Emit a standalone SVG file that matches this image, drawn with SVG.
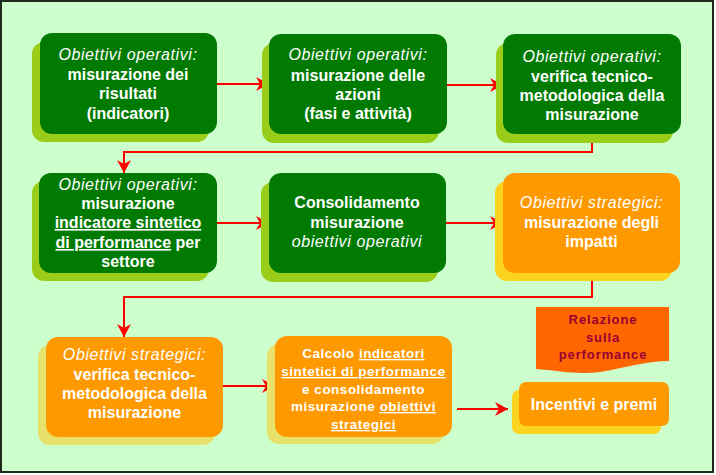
<svg xmlns="http://www.w3.org/2000/svg" width="716" height="475" viewBox="0 0 716 475">
<defs>
<marker id="arr" markerUnits="userSpaceOnUse" markerWidth="16" markerHeight="16" refX="13" refY="7" orient="auto">
<path d="M0,0 L13,7 L0,14 L4,7 Z" fill="#FF0000"/>
</marker>
</defs>
<style>
.t{font-family:"Liberation Sans",Arial,sans-serif;font-size:16px;font-weight:bold;fill:#FFFFFF;text-anchor:middle}
.i{font-style:italic;font-weight:normal;letter-spacing:0.6px}
.s{font-size:13.5px;letter-spacing:0.5px}
.u{text-decoration:underline}
.gm{fill:#007A00}
.gs{fill:#9ACD1A}
.om{fill:#FF9900}
.os{fill:#FCD420}
.ps{fill:#E6E26B}
.c{fill:none;stroke:#FF0000;stroke-width:2;marker-end:url(#arr)}
.d{font-family:"Liberation Sans",Arial,sans-serif;font-size:13px;font-weight:bold;fill:#990033;text-anchor:middle;letter-spacing:0.9px}
</style>
<rect x="1" y="1" width="712" height="471" fill="#CCFFCC" stroke="#1E2A1E" stroke-width="2"/>

<g id="connectors">
<path class="c" d="M217,84 H269"/>
<path class="c" d="M447,85 H503"/>
<path class="c" d="M592,134 V152 H124 V173"/>
<path class="c" d="M217,223 H269"/>
<path class="c" d="M446,223 H503"/>
<path class="c" d="M592,273 V297 H124 V337"/>
<path class="c" d="M223,386 H275"/>
<path class="c" d="M457,409 H508"/>
</g>

<g id="n1">
<rect class="gs" x="32" y="42" width="177" height="100" rx="12"/>
<rect class="gm" x="40" y="33" width="177" height="101" rx="12"/>
<text class="t" x="128" y="60"><tspan class="i">Obiettivi operativi:</tspan></text>
<text class="t" x="128" y="80">misurazione dei</text>
<text class="t" x="128" y="99">risultati</text>
<text class="t" x="128" y="119">(indicatori)</text>
</g>

<g id="n2">
<rect class="gs" x="262" y="43" width="177" height="100" rx="12"/>
<rect class="gm" x="269" y="34" width="178" height="100" rx="12"/>
<text class="t" x="358" y="60"><tspan class="i">Obiettivi operativi:</tspan></text>
<text class="t" x="358" y="81">misurazione delle</text>
<text class="t" x="358" y="100">azioni</text>
<text class="t" x="358" y="119">(fasi e attività)</text>
</g>

<g id="n3">
<rect class="gs" x="496" y="43" width="177" height="100" rx="12"/>
<rect class="gm" x="503" y="34" width="178" height="100" rx="12"/>
<text class="t" x="592" y="62"><tspan class="i">Obiettivi operativi:</tspan></text>
<text class="t" x="592" y="82">verifica tecnico-</text>
<text class="t" x="592" y="101">metodologica della</text>
<text class="t" x="592" y="120">misurazione</text>
</g>

<g id="n4">
<rect class="gs" x="32" y="181" width="177" height="100" rx="12"/>
<rect class="gm" x="39" y="173" width="178" height="100" rx="12"/>
<text class="t" x="128" y="190"><tspan class="i">Obiettivi operativi:</tspan></text>
<text class="t" x="128" y="209">misurazione</text>
<text class="t" x="128" y="228"><tspan class="u">indicatore sintetico</tspan></text>
<text class="t" x="128" y="248"><tspan class="u">di performance</tspan> per</text>
<text class="t" x="128" y="267">settore</text>
</g>

<g id="n5">
<rect class="gs" x="261" y="182" width="177" height="100" rx="12"/>
<rect class="gm" x="269" y="173" width="177" height="100" rx="12"/>
<text class="t" x="357" y="208">Consolidamento</text>
<text class="t" x="357" y="228">misurazione</text>
<text class="t" x="357" y="247"><tspan class="i">obiettivi operativi</tspan></text>
</g>

<g id="n6">
<rect class="os" x="495" y="181" width="177" height="100" rx="12"/>
<rect class="om" x="503" y="173" width="177" height="100" rx="12"/>
<text class="t" x="591.5" y="208"><tspan class="i">Obiettivi strategici:</tspan></text>
<text class="t" x="591.5" y="228">misurazione degli</text>
<text class="t" x="591.5" y="247">impatti</text>
</g>

<g id="n7">
<rect class="ps" x="38" y="345" width="177" height="100" rx="12"/>
<rect class="om" x="46" y="337" width="177" height="100" rx="12"/>
<text class="t" x="134.5" y="360"><tspan class="i">Obiettivi strategici:</tspan></text>
<text class="t" x="134.5" y="380">verifica tecnico-</text>
<text class="t" x="134.5" y="399">metodologica della</text>
<text class="t" x="134.5" y="418">misurazione</text>
</g>

<g id="n8">
<rect class="ps" x="267" y="344" width="177" height="100" rx="12"/>
<rect class="om" x="275" y="336" width="177" height="101" rx="12"/>
<text class="t s" x="363.5" y="358">Calcolo <tspan class="u">indicatori</tspan></text>
<text class="t s" x="363.5" y="376"><tspan class="u">sintetici di performance</tspan></text>
<text class="t s" x="363.5" y="394">e consolidamento</text>
<text class="t s" x="363.5" y="411">misurazione <tspan class="u">obiettivi</tspan></text>
<text class="t s" x="363.5" y="429"><tspan class="u">strategici</tspan></text>
</g>

<g id="n9">
<path d="M536,307 H669 V361 C645,361 625,368 600,372 C575,375 555,370 536,369 Z" fill="#FF6600"/>
<text class="d" x="603" y="324">Relazione</text>
<text class="d" x="603" y="342">sulla</text>
<text class="d" x="603" y="359">performance</text>
</g>

<g id="n10">
<rect class="os" x="512" y="390" width="149" height="44" rx="7"/>
<rect class="om" x="519" y="382" width="150" height="44" rx="7"/>
<text class="t" x="594" y="410">Incentivi e premi</text>
</g>
</svg>
